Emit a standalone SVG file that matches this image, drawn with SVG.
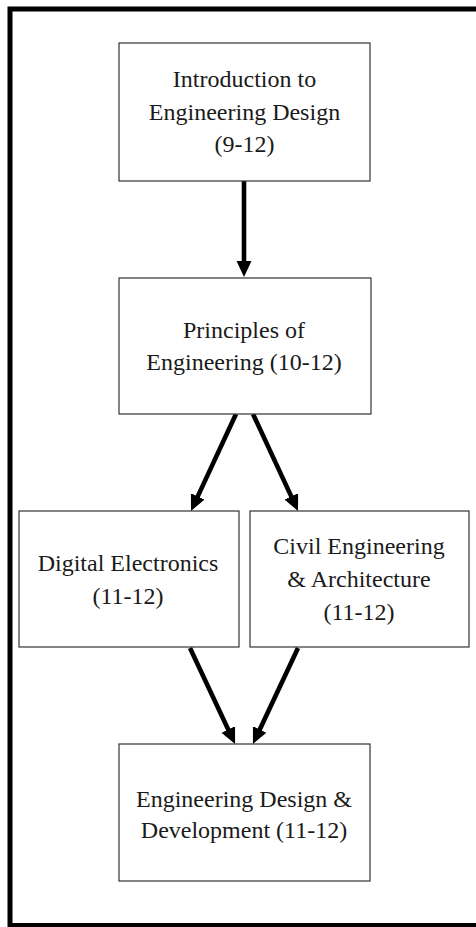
<svg xmlns="http://www.w3.org/2000/svg" width="476" height="927" viewBox="0 0 476 927">
<defs>
<style>
.box{fill:#fff;stroke:#333;stroke-width:1.2}
.lbl{font-family:"Liberation Serif","Times New Roman",serif;font-size:24px;fill:#1a1a1a;text-anchor:middle}
.arr{stroke:#000;stroke-width:4.6;fill:none;marker-end:url(#ah)}
</style>
<marker id="ah" markerUnits="userSpaceOnUse" markerWidth="17" markerHeight="16" refX="6" refY="7.5" orient="auto">
<path d="M0,0 L16,7.5 L0,15 z" fill="#000"/>
</marker>
</defs>
<rect x="0" y="0" width="476" height="927" fill="#fff"/>
<rect id="frame" x="10" y="9" width="500" height="916.5" fill="none" stroke="#000" stroke-width="5"/>
<g id="connectors">
<line class="arr" x1="244" y1="181" x2="244" y2="267"/>
<line class="arr" x1="236" y1="414" x2="195.2" y2="501.9"/>
<line class="arr" x1="253" y1="414" x2="293.8" y2="501.9"/>
<line class="arr" x1="190" y1="648" x2="230.8" y2="734.9"/>
<line class="arr" x1="298" y1="648" x2="257.2" y2="734.9"/>
</g>
<g id="intro">
<rect class="box" x="119" y="43" width="251" height="138"/>
<text class="lbl" x="244.5" y="87">Introduction to</text>
<text class="lbl" x="244.5" y="120">Engineering Design</text>
<text class="lbl" x="244.5" y="152">(9-12)</text>
</g>
<g id="poe">
<rect class="box" x="119" y="278" width="252" height="136"/>
<text class="lbl" x="244" y="338">Principles of</text>
<text class="lbl" x="244" y="370">Engineering (10-12)</text>
</g>
<g id="de">
<rect class="box" x="19" y="511" width="220" height="136"/>
<text class="lbl" x="128" y="571">Digital Electronics</text>
<text class="lbl" x="128" y="604">(11-12)</text>
</g>
<g id="cea">
<rect class="box" x="250" y="511" width="219" height="136"/>
<text class="lbl" x="359" y="554">Civil Engineering</text>
<text class="lbl" x="359" y="587">&amp; Architecture</text>
<text class="lbl" x="359" y="620">(11-12)</text>
</g>
<g id="edd">
<rect class="box" x="119" y="744" width="251" height="137"/>
<text class="lbl" x="244" y="807">Engineering Design &amp;</text>
<text class="lbl" x="244" y="838">Development (11-12)</text>
</g>
</svg>
